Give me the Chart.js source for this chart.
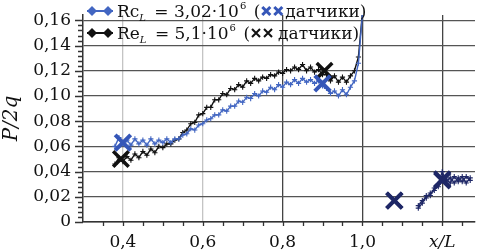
<!DOCTYPE html>
<html>
<head>
<meta charset="utf-8">
<script src="https://cdn.jsdelivr.net/npm/chart.js@4"></script>
<style>
  html, body { margin: 0; padding: 0; background: #fff; }
  #box { width: 490px; height: 252px; position: relative; }
</style>
</head>
<body>
<div id="box"><canvas id="graph"></canvas></div>
<script>
// x/L positions of the measured curves (left part)
const xMain = [0.38, 0.39, 0.40, 0.41, 0.42, 0.43, 0.44, 0.45, 0.46, 0.47,
  0.48, 0.49, 0.50, 0.51, 0.52, 0.53, 0.54, 0.55, 0.56, 0.57,
  0.58, 0.59, 0.60, 0.61, 0.62, 0.63, 0.64, 0.65, 0.66, 0.67,
  0.68, 0.69, 0.70, 0.71, 0.72, 0.73, 0.74, 0.75, 0.76, 0.77,
  0.78, 0.79, 0.80, 0.81, 0.82, 0.83, 0.84, 0.85, 0.86, 0.87,
  0.88, 0.89, 0.90, 0.91, 0.92, 0.93, 0.94, 0.95, 0.96, 0.97,
  0.98, 0.99, 1.00];
// Rc_L = 3,02e6
const rcMain = [0.060, 0.067, 0.062, 0.065, 0.061, 0.066, 0.062, 0.065, 0.061, 0.066,
  0.062, 0.065, 0.063, 0.066, 0.063, 0.066, 0.066, 0.069, 0.070, 0.074,
  0.073, 0.077, 0.078, 0.081, 0.082, 0.085, 0.085, 0.089, 0.088, 0.092,
  0.092, 0.096, 0.095, 0.099, 0.098, 0.102, 0.100, 0.104, 0.103, 0.107,
  0.105, 0.109, 0.107, 0.111, 0.109, 0.113, 0.110, 0.114, 0.111, 0.113,
  0.110, 0.112, 0.108, 0.106, 0.102, 0.104, 0.100, 0.105, 0.101, 0.107,
  0.112, 0.126, 0.165];
// Re_L = 5,1e6
const reMain = [0.046, 0.051, 0.048, 0.052, 0.049, 0.054, 0.051, 0.056, 0.053, 0.058,
  0.055, 0.060, 0.059, 0.062, 0.062, 0.065, 0.066, 0.071, 0.073, 0.078,
  0.079, 0.085, 0.086, 0.091, 0.091, 0.097, 0.097, 0.102, 0.101, 0.106,
  0.105, 0.109, 0.107, 0.112, 0.110, 0.114, 0.112, 0.115, 0.114, 0.117,
  0.116, 0.119, 0.118, 0.121, 0.120, 0.123, 0.121, 0.125, 0.120, 0.123,
  0.119, 0.121, 0.117, 0.117, 0.112, 0.116, 0.111, 0.115, 0.111, 0.116,
  0.120, 0.131, 0.166];
// right part, behind the step
const xRight = [1.14, 1.15, 1.16, 1.17, 1.18, 1.19, 1.20, 1.21, 1.22, 1.23, 1.24, 1.25, 1.26, 1.27];
const rcRight = [0.013, 0.017, 0.019, 0.023, 0.025, 0.030, 0.040, 0.032, 0.035, 0.031, 0.035, 0.032, 0.036, 0.033];
const reRight = [0.011, 0.015, 0.021, 0.021, 0.027, 0.028, 0.036, 0.034, 0.031, 0.036, 0.032, 0.036, 0.031, 0.035];
// pressure taps ("датчики")
const rcTapX = [0.40, 0.90, 1.08, 1.20];
const rcTapY = [0.063, 0.110, 0.017, 0.033];
const reTapX = [0.395, 0.905, 1.08, 1.20];
const reTapY = [0.050, 0.120, 0.017, 0.034];
// ticks
const xTicks = [0.4, 0.6, 0.8, 1.0, 1.2];
const xTickLabels = ['0,4', '0,6', '0,8', '1,0', 'x/L'];
const yTicks = [0, 0.02, 0.04, 0.06, 0.08, 0.10, 0.12, 0.14, 0.16];
const yTickLabels = ['0', '0,02', '0,04', '0,06', '0,08', '0,10', '0,12', '0,14', '0,16'];

const BLUE = '#4266c2';
const BLUE_X = '#3556b8';
const BLACK = '#111111';
const NAVY = '#1e2766';
const FONT = '"DejaVu Serif"';

function series(xs, ys, xr, yr) {
  let pts = xs.map((x, i) => ({ x: x, y: ys[i] }));
  pts.push({ x: 1.07, y: null });
  return pts.concat(xr.map((x, i) => ({ x: x, y: yr[i] })));
}
function taps(xs, ys) {
  return xs.map((x, i) => ({ x: x, y: ys[i] }));
}

const navySeg = (c) => ctx => ctx.p0.parsed.x > 1.05 ? NAVY : c;
const navyPt = (c) => ctx => (ctx.raw && ctx.raw.x > 1.05) ? NAVY : c;

const minorTicks = {
  id: 'minorTicks',
  beforeDatasetsDraw(chart) {
    const ctx = chart.ctx;
    // gap in the top gridline behind the first legend row
    ctx.save();
    ctx.fillStyle = '#fff';
    ctx.fillRect(86, 3, 274, 6);
    ctx.restore();
  },
  afterDraw(chart) {
    const ctx = chart.ctx, xs = chart.scales.x, ys = chart.scales.y;
    const a = chart.chartArea;
    ctx.save();
    ctx.strokeStyle = '#333';
    ctx.lineWidth = 1.3;
    ctx.beginPath();
    for (let i = 0; i <= 40; i++) {
      const py = Math.round(ys.getPixelForValue(i * 0.004)) + 0.5;
      const len = (i % 5 === 0) ? 8 : 5;
      ctx.moveTo(a.left - len, py);
      ctx.lineTo(a.left, py);
    }
    for (let i = 7; i <= 25; i++) {
      const px = Math.round(xs.getPixelForValue(i * 0.05)) + 0.5;
      ctx.moveTo(px, a.bottom);
      ctx.lineTo(px, a.bottom + 4);
    }
    ctx.stroke();

    // legend
    drawRow(ctx, 17, BLUE, BLUE_X, 'Rc', '3,02·10', '6', true);
    drawRow(ctx, 39, BLACK, BLACK, 'Re', '5,1·10', '6', false);
    ctx.restore();
  }
};

function diamond(ctx, x, y, r) {
  ctx.beginPath();
  ctx.moveTo(x, y - r); ctx.lineTo(x + r, y); ctx.lineTo(x, y + r); ctx.lineTo(x - r, y);
  ctx.closePath(); ctx.fill();
}
function cross(ctx, x, y, r, w) {
  ctx.lineWidth = w;
  ctx.beginPath();
  ctx.moveTo(x - r, y - r); ctx.lineTo(x + r, y + r);
  ctx.moveTo(x + r, y - r); ctx.lineTo(x - r, y + r);
  ctx.stroke();
}

function drawRow(ctx, base, color, xColor, name, val, exp, bold) {
  const my = base - 6;
  ctx.strokeStyle = color; ctx.fillStyle = color; ctx.lineWidth = 2;
  ctx.beginPath(); ctx.moveTo(87, my); ctx.lineTo(113, my); ctx.stroke();
  diamond(ctx, 92, my, 5); diamond(ctx, 108, my, 5);
  ctx.fillStyle = '#111';
  ctx.textBaseline = 'alphabetic'; ctx.textAlign = 'left';
  let x = 117;
  ctx.font = '17px ' + FONT;
  ctx.fillText(name, x, base); x += ctx.measureText(name).width;
  ctx.font = 'italic 10px ' + FONT;
  ctx.fillText('L', x, base + 4); x += ctx.measureText('L').width + 3;
  ctx.font = '17px ' + FONT;
  const t = ' = ' + val;
  ctx.fillText(t, x, base); x += ctx.measureText(t).width;
  ctx.font = '10px ' + FONT;
  ctx.fillText(exp, x + 1, base - 8); x += ctx.measureText(exp).width + 3;
  ctx.font = '17px ' + FONT;
  ctx.fillText(' (', x, base); x += ctx.measureText(' (').width + 1;
  ctx.strokeStyle = xColor;
  cross(ctx, x + 5, base - 6, 4, bold ? 3 : 2);
  cross(ctx, x + 17, base - 6, 4, bold ? 3 : 2);
  x += bold ? 24 : 27;
  ctx.fillStyle = '#111';
  ctx.fillText('датчики)', x, base);
}

const graph = document.getElementById('graph');
new Chart(graph, {
  type: 'line',
  data: {
    datasets: [
      {
        label: 'Rc taps', data: taps(rcTapX, rcTapY), showLine: false,
        pointStyle: 'crossRot', pointRadius: 11, pointBorderWidth: 4,
        pointBorderColor: rcTapX.map(x => x > 1.0 ? NAVY : BLUE_X), borderColor: BLUE_X
      },
      {
        label: 'Re taps', data: taps(reTapX, reTapY), showLine: false,
        pointStyle: 'crossRot', pointRadius: 11, pointBorderWidth: 3.5,
        pointBorderColor: reTapX.map(x => x > 1.0 ? NAVY : BLACK), borderColor: BLACK
      },
      {
        label: 'Rc', data: series(xMain, rcMain, xRight, rcRight),
        borderColor: BLUE, backgroundColor: BLUE, borderWidth: 1.4,
        pointStyle: 'cross', pointRadius: 2.6, pointBorderWidth: 1.1,
        pointBorderColor: navyPt(BLUE), pointBackgroundColor: navyPt(BLUE),
        segment: { borderColor: navySeg(BLUE) }, spanGaps: false, tension: 0
      },
      {
        label: 'Re', data: series(xMain, reMain, xRight, reRight),
        borderColor: BLACK, backgroundColor: BLACK, borderWidth: 1.4,
        pointStyle: 'cross', pointRadius: 2.6, pointBorderWidth: 1.1,
        pointBorderColor: navyPt(BLACK), pointBackgroundColor: navyPt(BLACK),
        segment: { borderColor: navySeg(BLACK) }, spanGaps: false, tension: 0
      }
    ]
  },
  options: {
    responsive: true,
    maintainAspectRatio: false,
    animation: false,
    layout: { padding: 0 },
    plugins: { legend: { display: false }, tooltip: { enabled: false } },
    scales: {
      x: {
        type: 'linear', min: 0.3, max: 1.282,
        afterBuildTicks: s => { s.ticks = xTicks.map(v => ({ value: v })); },
        afterFit: s => { s.height = 30; s.paddingLeft = 0; s.paddingRight = 0; },
        ticks: {
          autoSkip: false, maxRotation: 0, padding: 10, color: '#111',
          callback: (v, i) => xTickLabels[i],
          font: ctx => ({ family: FONT, size: 17, style: (ctx.tick && ctx.tick.value === 1.2) ? 'italic' : 'normal' })
        },
        grid: {
          drawTicks: false, lineWidth: 1.3,
          color: ctx => (ctx.tick && ctx.tick.value < 0.7) ? '#c4c4c4' : '#444'
        },
        border: { color: '#333', width: 1.5 }
      },
      y: {
        type: 'linear', min: 0, max: 0.1643,
        afterBuildTicks: s => { s.ticks = yTicks.map(v => ({ value: v })); },
        afterFit: s => { s.width = 83; s.paddingTop = 0; s.paddingBottom = 0; },
        ticks: {
          autoSkip: false, padding: 12, color: '#111',
          callback: (v, i) => yTickLabels[i],
          font: { family: FONT, size: 17 }
        },
        grid: { drawTicks: false, lineWidth: 1.3, color: '#555' },
        border: { color: '#333', width: 1.5 },
        title: {
          display: true, text: 'P/2q', color: '#111', padding: { top: 0, bottom: 0 },
          font: { family: FONT, size: 20, style: 'italic' }
        }
      }
    }
  },
  plugins: [minorTicks]
});
</script>
</body>
</html>
